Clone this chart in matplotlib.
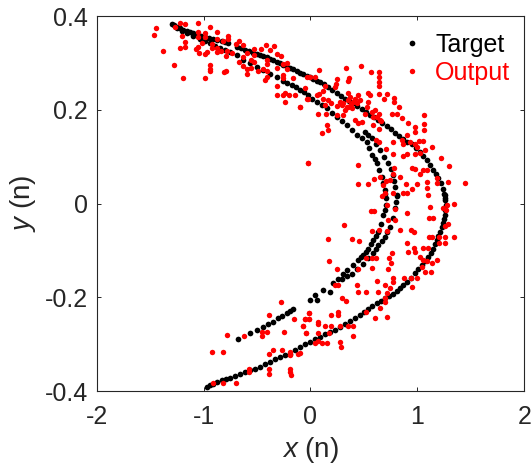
import numpy as np
import matplotlib
matplotlib.use("Agg")
import matplotlib.pyplot as plt

plt.rcParams["font.family"] = ["Liberation Sans", "DejaVu Sans"]
plt.rcParams["mathtext.fontset"] = "custom"
plt.rcParams["mathtext.it"] = "Liberation Sans:italic"
plt.rcParams["mathtext.rm"] = "Liberation Sans"

# target, one array per visible band
target_upper = [(-1.299,.383),(-1.275,.380),(-1.252,.377),(-1.221,.374),(-1.190,.371),(-1.159,.368),(-1.128,.366),(-1.096,.363),
(-1.065,.361),(-1.026,.358),(-.987,.356),(-.948,.353),(-.909,.350),(-.870,.348),(-.831,.347),(-.800,.345),(-.769,.343),
(-.691,.334),(-.652,.331),(-.613,.327),(-.574,.325),(-.535,.322),(-.504,.319),(-.473,.317),(-.441,.315),(-.410,.312),
(-.379,.309),(-.348,.306),(-.317,.302),(-.286,.299),(-.254,.296),(-.223,.292),(-.192,.289),(-.161,.286),(-.130,.282),
(-.099,.279),(-.067,.276),(-.036,.272),(-.005,.269),(.027,.265),(.058,.262),(.089,.259),(.128,.254),(.167,.248),
(.206,.242),(.245,.235),(.284,.230),(.323,.224),(.362,.219),(.401,.214),(.440,.208),(.479,.201),(.518,.195),(.557,.189),
(.596,.184),(.635,.178),(.674,.172),(.713,.165),(.752,.158),(.791,.151),(.830,.144),(.869,.137),(.908,.132),(.947,.127),
(.986,.119),(1.025,.110),(1.056,.102),(1.087,.093),(1.118,.082),(1.149,.071),(1.173,.063),(1.196,.054),(1.217,.043),
(1.237,.032),(1.248,.021),(1.258,.011)]
target_outer = [(1.258,.018),(1.262,.008),(1.265,-.003),(1.262,-.014),(1.258,-.025),(1.250,-.034),(1.243,-.042),(1.228,-.051),
(1.212,-.060),(1.196,-.069),(1.180,-.078),(1.165,-.087),(1.149,-.096),(1.125,-.105),(1.102,-.114),(1.071,-.123),(1.040,-.131),
(1.009,-.140),(.978,-.149),(.939,-.158),(.900,-.167),(.868,-.174),(.837,-.180),(.806,-.186),(.775,-.192),(.736,-.197),
(.697,-.202),(.658,-.208),(.619,-.213),(.580,-.219),(.541,-.225),(.502,-.232),(.463,-.238),(.417,-.245),(.370,-.251),
(.323,-.257),(.276,-.263),(.230,-.269),(.183,-.274),(.136,-.279),(.089,-.284),(.042,-.290),(-.004,-.295),(-.051,-.300),
(-.098,-.306),(-.145,-.313),(-.192,-.320),(-.239,-.324),(-.286,-.327),(-.333,-.332),(-.379,-.338),(-.426,-.343),(-.473,-.348),
(-.520,-.352),(-.566,-.355),(-.613,-.360),(-.660,-.364),(-.707,-.368),(-.753,-.372),(-.792,-.375),(-.831,-.377),(-.870,-.381),
(-.909,-.384),(-.941,-.388),(-.972,-.391)]
target_inner_a = [(-1.252,.374),(-1.205,.369),(-1.159,.363),(-1.097,.358),(-1.034,.352),(-.987,.347),(-.941,.342),(-.894,.337),
(-.847,.332),(-.800,.328),(-.753,.324),(-.691,.316),(-.629,.307),(-.566,.300),(-.504,.292),(-.441,.284),(-.379,.276),
(-.317,.269),(-.255,.262),(-.216,.258),(-.177,.253),(-.138,.248),(-.099,.242),(-.060,.237),(-.021,.231),(.018,.224),(.058,.217),
(.105,.210),(.151,.203),(.198,.194),(.245,.185),(.292,.176),(.339,.167),(.385,.156),(.432,.146),(.479,.139),(.526,.132),
(.550,.118),(.572,.103),(.600,.095),(.625,.086),(.645,.072),(.666,.057),(.682,.043),(.697,.029),(.702,.020),(.706,.011),
(.706,-.003),(.694,-.014),(.682,-.025),(.658,-.043),(.635,-.060),(.612,-.069),(.588,-.078),(.565,-.087),(.541,-.096),
(.518,-.103),(.494,-.109),(.471,-.115),(.448,-.121),(.395,-.131),(.339,-.142),(.300,-.151),(.261,-.160),(.214,-.170),
(.120,-.185),(.042,-.195),(-.004,-.205),(-.161,-.226),(-.192,-.230),(-.223,-.234),(-.262,-.240),(-.301,-.245),(-.348,-.252),
(-.395,-.258),(-.442,-.263),(-.504,-.270),(-.566,-.277),(-.682,-.290)]
target_inner_b = [(.510,.153),(.541,.146),(.572,.139),(.611,.127),(.650,.114),(.689,.100),(.728,.086),(.752,.074),(.775,.061),
(.783,.048),(.791,.036),(.806,.015),(.806,.018),(.798,.004),(.791,-.010),(.768,-.030),(.744,-.050),(.720,-.060),(.697,-.071),
(.666,-.080),(.635,-.089),(.612,-.097),(.588,-.106),(.541,-.117),(.494,-.128),(.440,-.139),(.385,-.150),(.338,-.155),(.292,-.160),
(.183,-.188),(.058,-.206)]

output_xy = [(-1.446,.375),(-1.461,.359),(-1.380,.325),(-1.274,.295),(-1.271,.377),(-1.221,.386),(-1.174,.383),(-1.056,.386),
(-.937,.377),(-1.206,.357),(-1.174,.344),(-1.174,.334),(-1.221,.331),(-1.193,.268),(-.990,.268),(-1.056,.365),(-1.056,.356),
(-.990,.363),(-.990,.356),(-.875,.365),(-.875,.352),(-.772,.358),(-.772,.352),(-.816,.347),(-1.019,.342),(-1.050,.334),
(-1.075,.329),(-1.043,.322),(-.972,.324),(-.984,.319),(-.919,.340),(-.919,.332),(-.878,.331),(-.872,.324),(-.841,.326),
(-.778,.326),(-.791,.315),(-.738,.322),(-.697,.340),(-.669,.347),(-.629,.339),(-.417,.339),(-.342,.336),(-.379,.327),
(-.463,.329),(-.526,.329),(-.598,.322),(-.629,.313),(-.529,.317),(-.666,.302),(-.629,.294),(-.598,.288),(-.598,.276),
(-.554,.306),(-.526,.302),(-.554,.290),(-.488,.283),(-.448,.288),(-.404,.307),(-.404,.297),(-.404,.283),(-.410,.269),
(-.426,.263),(-.317,.318),(-.280,.315),(-.314,.289),(-.261,.297),(-.223,.299),(-.223,.286),(-.261,.274),(-.255,.267),
(-.161,.268),(-.314,.251),(-.314,.231),(-.255,.231),(-.239,.236),(-.198,.231),(-.142,.231),(-.236,.217),(-.102,.206),
(-.052,.246),(-.030,.224),(-.030,.269),(-.027,.087),(-.944,.295),(-.941,.288),(-.941,.283),(-.806,.280),(-.788,.283),
(.080,.284),(.329,.289),(.469,.293),(.566,.280),(.641,.280),(.641,.270),(.641,.260),(.641,.251),(.641,.233),(.360,.267),
(.354,.262),(.245,.265),(.239,.256),(.229,.248),(.136,.251),(-.004,.269),(.042,.270),(.058,.231),(-.026,.224),(-.098,.206),
(.080,.233),(.120,.241),(.114,.224),(.167,.221),(.189,.214),(.136,.210),(.074,.192),(.145,.191),(.245,.208),(.292,.210),
(.348,.235),(.354,.221),(.376,.212),(.339,.205),(.401,.217),(.448,.231),(.432,.214),(.541,.235),(.557,.231),(.541,.217),
(.688,.222),(.719,.233),(.784,.226),(.784,.217),(.828,.206),(.759,.191),(.806,.191),(.853,.182),(1.062,.189),(1.062,.169),
(1.062,.157),(.978,.164),(.915,.172),(.644,.192),(.604,.199),(.582,.184),(.582,.167),(.644,.160),(.660,.177),(.245,.189),
(.301,.189),(.416,.179),(.479,.174),(.448,.171),(.151,.167),(.161,.157),(.111,.151),(-.026,.087),(.448,.083),(.448,.041),
(.535,.042),(.594,.052),(.650,.057),(.675,.039),(.697,.023),(.666,.015),(.706,.048),(.744,.050),(.784,.076),(.769,.064),
(.837,.057),(.894,.041),(.993,.041),(.953,.032),(.900,.022),(.862,.022),(.775,.022),(.947,.075),(.978,.073),(1.025,.063),
(1.056,.071),(1.093,.071),(1.087,.046),(1.087,.034),(1.102,.018),(1.187,.054),(1.187,.043),(1.283,.045),(1.445,.044),
(1.296,.080),(1.221,.098),(1.140,.121),(1.071,.114),(1.025,.107),(.978,.106),(.900,.106),(.862,.101),(.775,.106),(.706,.116),
(.644,.132),(.613,.135),(.775,.132),(.853,.135),(.900,.146),(.869,.128),(.931,.132),(.978,.128),(1.018,.134),(1.056,.134),
(.993,.121),(.978,.153),(1.339,-.000),(1.243,-.010),(1.274,-.003),(1.265,-.014),(1.118,-.008),(1.112,-.031),(1.149,-.031),
(.900,-.020),(.563,-.016),(.594,-.016),(.716,-.003),(.791,-.012),(.728,-.035),(.791,-.035),(.314,-.046),(.575,-.058),
(.644,-.057),(.713,-.059),(.834,-.056),(.937,-.056),(.968,-.060),(1.290,-.044),(1.258,-.048),(1.339,-.072),(1.258,-.071),
(1.258,-.084),(1.205,-.071),(1.205,-.084),(1.112,-.072),(1.140,-.072),(.167,-.076),(.392,-.076),(.457,-.079),(.900,-.084),
(.968,-.094),(.978,-.103),(.915,-.103),(1.049,-.094),(1.102,-.094),(1.025,-.115),(1.049,-.121),(1.087,-.122),(1.134,-.126),
(1.187,-.121),(1.046,-.135),(1.071,-.147),(1.127,-.147),(.766,-.106),(.738,-.117),(.750,-.126),(.728,-.140),(.516,-.117),
(.575,-.117),(.616,-.117),(.575,-.138),(.448,-.140),(.176,-.122),(.248,-.140),(.229,-.174),(.254,-.174),(.432,-.174),
(.448,-.189),(.516,-.188),(.625,-.165),(.635,-.189),(.697,-.174),(.775,-.158),(.775,-.167),(.744,-.180),(.719,-.190),
(.697,-.202),(.697,-.210),(.878,-.158),(.937,-.158),(.993,-.158),(.947,-.179),(.292,-.201),(.335,-.209),(.653,-.222),
(.192,-.237),(.261,-.232),(.261,-.238),(.516,-.232),(.607,-.245),(.713,-.243),(-.011,-.234),(-.054,-.246),(-.011,-.246),
(.070,-.253),(.067,-.256),(-.067,-.261),(.139,-.261),(.192,-.261),(.276,-.262),(.351,-.262),(.395,-.262),(.395,-.283),
(-.039,-.276),(.070,-.276),(.173,-.276),(.070,-.293),(.045,-.298),(.105,-.298),(.155,-.298),(.273,-.295),(.282,-.306),
(-.098,-.318),(-.280,-.210),(-.392,-.237),(-.014,-.234),(-.152,-.247),(-.052,-.246),(-.014,-.246),(-.067,-.261),(-.039,-.276),
(-.407,-.275),(-.457,-.275),(-.457,-.282),(-.251,-.275),(-.622,-.283),(-.781,-.281),(-.919,-.317),(-.822,-.317),(-.354,-.313),
(-.392,-.320),(-.264,-.313),(-.192,-.316),(-.195,-.323),(-.120,-.320),(-.579,-.353),(-.579,-.359),(-.392,-.353),(-.392,-.363),
(-.192,-.353),(-.192,-.359),(-.183,-.366),(-.916,-.382),(-.822,-.382),(-.697,-.382),
(.307,.214),(.354,.206),(.385,.203),(.416,.224),(.463,.221),(.276,.217),(.323,.199),(.370,.228),(.510,.192),(.572,.196),
(.619,.185),(.650,.178),(.526,.206)]

x_ticks = [-2, -1, 0, 1, 2]
x_tick_labels = ["-2", "-1", "0", "1", "2"]
y_ticks = [-0.4, -0.2, 0, 0.2, 0.4]
y_tick_labels = ["-0.4", "-0.2", "0", "0.2", "0.4"]

target = np.array(target_upper + target_outer + target_inner_a + target_inner_b)
output = np.array(output_xy)

fig = plt.figure(figsize=(5.32, 4.65), dpi=100)
ax = fig.add_axes([96.7/532, 1-391/465, 427.5/532, 375/465])

ax.plot(target[:, 0], target[:, 1], "o", color="k", ms=4.1, mew=0, label="Target")
ax.plot(output[:, 0], output[:, 1], "o", color="r", ms=3.9, mew=0, label="Output")

ax.set_xlim(-2, 2)
ax.set_ylim(-0.4, 0.4)
ax.set_xticks(x_ticks)
ax.set_xticklabels(x_tick_labels)
ax.set_yticks(y_ticks)
ax.set_yticklabels(y_tick_labels)
ax.tick_params(direction="in", top=True, right=True, length=3.2, width=0.7, color="#262626",
               labelcolor="#262626", labelsize=18)
ax.tick_params(axis="x", pad=10)
ax.tick_params(axis="y", pad=6.5)
for s in ax.spines.values():
    s.set_linewidth(0.8)
    s.set_color("#262626")

ax.set_xlabel(r"$\mathit{x}$ (n)", fontsize=20, color="#262626", labelpad=4.5)
ax.set_ylabel(r"$\mathit{y}$ (n)", fontsize=20, color="#262626")
ax.yaxis.set_label_coords(-0.137, 0.5)

ax.legend(loc="upper right", frameon=False, fontsize=18, labelcolor=["k", "r"], handlelength=1.0,
          handletextpad=0.45, labelspacing=0.15, borderaxespad=0.2, bbox_to_anchor=(1.003, 0.995))

fig.savefig("out.png", dpi=100)
